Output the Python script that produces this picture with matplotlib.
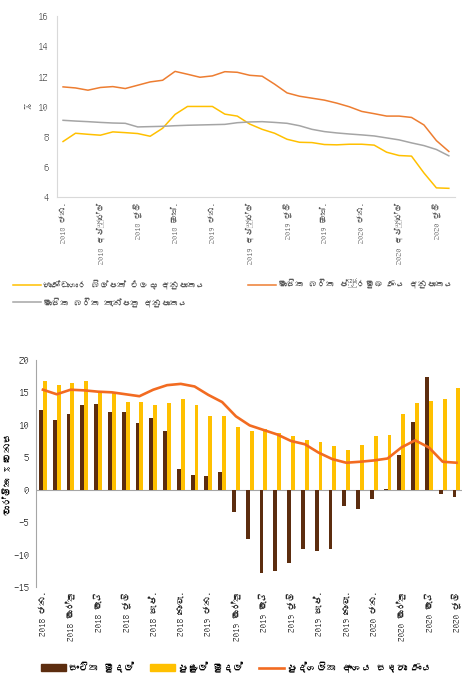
import matplotlib
matplotlib.use('Agg')
import matplotlib.pyplot as plt
from matplotlib import font_manager
from matplotlib.ft2font import FT2Font
from matplotlib.patches import Patch
from matplotlib.lines import Line2D


# look for any installed font that has sinhala glyphs
def findSinhala():
    for f in font_manager.fontManager.ttflist:
        try:
            if 0x0DC3 in FT2Font(f.fname).get_charmap():
                return f.name
        except Exception:
            pass
    return None


sinhala = findSinhala()
families = ([sinhala] if sinhala else []) + ['DejaVu Sans']
plt.rcParams['font.family'] = families


# top chart - interest rates, Jan 2018 .. Aug 2020
topTicks = ['2018 ජන.', '2018 අප්‍රේල්', '2018 ජූලි', '2018 ඔක්.',
            '2019 ජන.', '2019 අප්‍රේල්', '2019 ජූලි', '2019 ඔක්.',
            '2020 ජන.', '2020 අප්‍රේල්', '2020 ජූලි']

tbillYield = [7.68, 8.23, 8.16, 8.10, 8.32, 8.27, 8.21, 8.03, 8.56, 9.48, 10.01, 10.01,
              10.01, 9.50, 9.37, 8.84, 8.49, 8.23, 7.83, 7.63, 7.61, 7.48, 7.46, 7.50,
              7.50, 7.44, 6.97, 6.75, 6.71, 5.59, 4.60, 4.57]
primeLending = [11.31, 11.24, 11.09, 11.27, 11.33, 11.20, 11.42, 11.64, 11.75, 12.34, 12.15, 11.95,
                12.04, 12.32, 12.28, 12.08, 12.02, 11.49, 10.91, 10.69, 10.56, 10.43, 10.23, 9.99,
                9.68, 9.53, 9.37, 9.37, 9.28, 8.78, 7.74, 7.02]
depositRate = [9.09, 9.04, 9.00, 8.95, 8.91, 8.89, 8.65, 8.67, 8.69, 8.73, 8.76, 8.78,
               8.80, 8.82, 8.93, 8.98, 9.00, 8.95, 8.89, 8.73, 8.49, 8.34, 8.25, 8.18,
               8.12, 8.05, 7.92, 7.79, 7.59, 7.41, 7.15, 6.73]

topLabels = ['භාණ්ඩාගාර බිල්පත් එලදා අනුපාතය',
             'මාසික බරිත තැන්පතු අනුපාතය',
             'මාසික බරිත ප්‍රමුඛ ණය අනුපාතය']


# bottom chart - monetary aggregates, Jan 2018 .. Jul 2020
bottomTicks = ['2018 ජන.', '2018 මාර්තු', '2018 මැයි', '2018 ජූලි', '2018 සැප්.', '2018 නොවැ.',
               '2019 ජන.', '2019 මාර්තු', '2019 මැයි', '2019 ජූලි', '2019 සැප්.', '2019 නොවැ.',
               '2020 ජන.', '2020 මාර්තු', '2020 මැයි', '2020 ජූලි']

reserveMoney = [12.3, 10.7, 11.7, 13.0, 13.2, 12.0, 11.9, 10.2, 11.1, 9.1, 3.2, 2.3,
                2.05, 2.7, -3.5, -7.6, -12.8, -12.5, -11.3, -9.1, -9.5, -9.1, -2.5, -3.0,
                -1.5, 0.15, 5.3, 10.5, 17.3, -0.7, -1.1]
broadMoney = [16.8, 16.2, 16.4, 16.7, 15.1, 14.9, 13.5, 13.5, 13.1, 13.4, 13.9, 13.0,
              11.4, 11.4, 9.7, 9.0, 9.4, 8.7, 8.2, 7.7, 7.4, 6.7, 6.1, 6.9,
              8.3, 8.4, 11.7, 13.3, 13.7, 14.0, 15.7]
privateCredit = [15.4, 14.7, 15.4, 15.3, 15.1, 15.0, 14.7, 14.4, 15.4, 16.1, 16.3, 15.9,
                 14.6, 13.5, 11.3, 9.9, 9.2, 8.5, 7.5, 7.0, 5.7, 4.7, 4.15, 4.3,
                 4.5, 4.8, 6.5, 7.6, 6.5, 4.3, 4.15]

bottomLabels = ['සංචිත මුදල්', 'පුළුල් මුදල්', 'පුද්ගලික අංශය සඳහා ණය']


fig = plt.figure(figsize=(4.62, 6.79), dpi=100)

# ---------- top
ax = fig.add_axes([0.123, 0.710, 0.862, 0.266])
x = list(range(len(tbillYield)))
l1, = ax.plot(x, tbillYield, color='#FFC000', lw=1.1)
l2, = ax.plot(x, primeLending, color='#ED7D31', lw=1.1)
l3, = ax.plot(x, depositRate, color='#A5A5A5', lw=1.1)
ax.set_xlim(-0.5, len(x) - 0.5)
ax.set_ylim(4, 16)
ax.set_yticks(range(4, 17, 2))
ax.set_xticks(range(0, len(x), 3))
ax.set_xticklabels(topTicks, rotation=90, fontsize=5.9, color='#595959')
ax.tick_params(axis='y', labelsize=7.8, colors='#595959', length=0, pad=6)
ax.tick_params(axis='x', length=0, pad=4)
ax.set_ylabel('%', fontsize=8, color='#404040', labelpad=4)
for s in ['top', 'right']:
    ax.spines[s].set_visible(False)
for s in ['left', 'bottom']:
    ax.spines[s].set_color('#D9D9D9')
ax.legend([l1, l3, l2], topLabels, ncol=2, frameon=False, fontsize=6.3,
          loc='upper left', bbox_to_anchor=(-0.13, -0.41), handlelength=3.2,
          handletextpad=0.2, columnspacing=5.0, labelspacing=0.9,
          labelcolor='#595959')

# ---------- bottom
ax2 = fig.add_axes([0.078, 0.1355, 0.925, 0.3345])
xb = list(range(len(reserveMoney)))
w = 0.28
ax2.bar([i - w / 2 for i in xb], reserveMoney, width=w, color='#5C2D0F', zorder=2)
ax2.bar([i + w / 2 for i in xb], broadMoney, width=w, color='#FFC000', zorder=2)
ax2.plot(xb, privateCredit, color='#F26B21', lw=1.9, zorder=3)
ax2.axhline(0, color='#A6A6A6', lw=0.8, zorder=1)
ax2.set_xlim(-0.5, len(xb) - 0.5)
ax2.set_ylim(-15, 20)
ax2.set_yticks(range(-15, 21, 5))
ax2.set_xticks(range(0, len(xb), 2))
ax2.set_xticklabels(bottomTicks, rotation=90, fontsize=6.5, color='#262626')
ax2.tick_params(axis='y', labelsize=7.8, colors='#262626', length=0, pad=5)
ax2.tick_params(axis='x', length=0, pad=3)
ax2.set_ylabel('වාර්ෂික % වෙනස', fontsize=7, fontweight='bold', labelpad=1)
for s in ['top', 'right', 'bottom']:
    ax2.spines[s].set_visible(False)
ax2.spines['left'].set_color('#A6A6A6')

handles = [Patch(color='#5C2D0F'), Patch(color='#FFC000'),
           Line2D([], [], color='#F26B21', lw=1.9)]
ax2.legend(handles, bottomLabels, ncol=3, frameon=False, fontsize=7.2,
           loc='upper left', bbox_to_anchor=(-0.01, -0.29), handlelength=2.5,
           handletextpad=0.3, columnspacing=1.6)

fig.savefig('out.png', dpi=100)
